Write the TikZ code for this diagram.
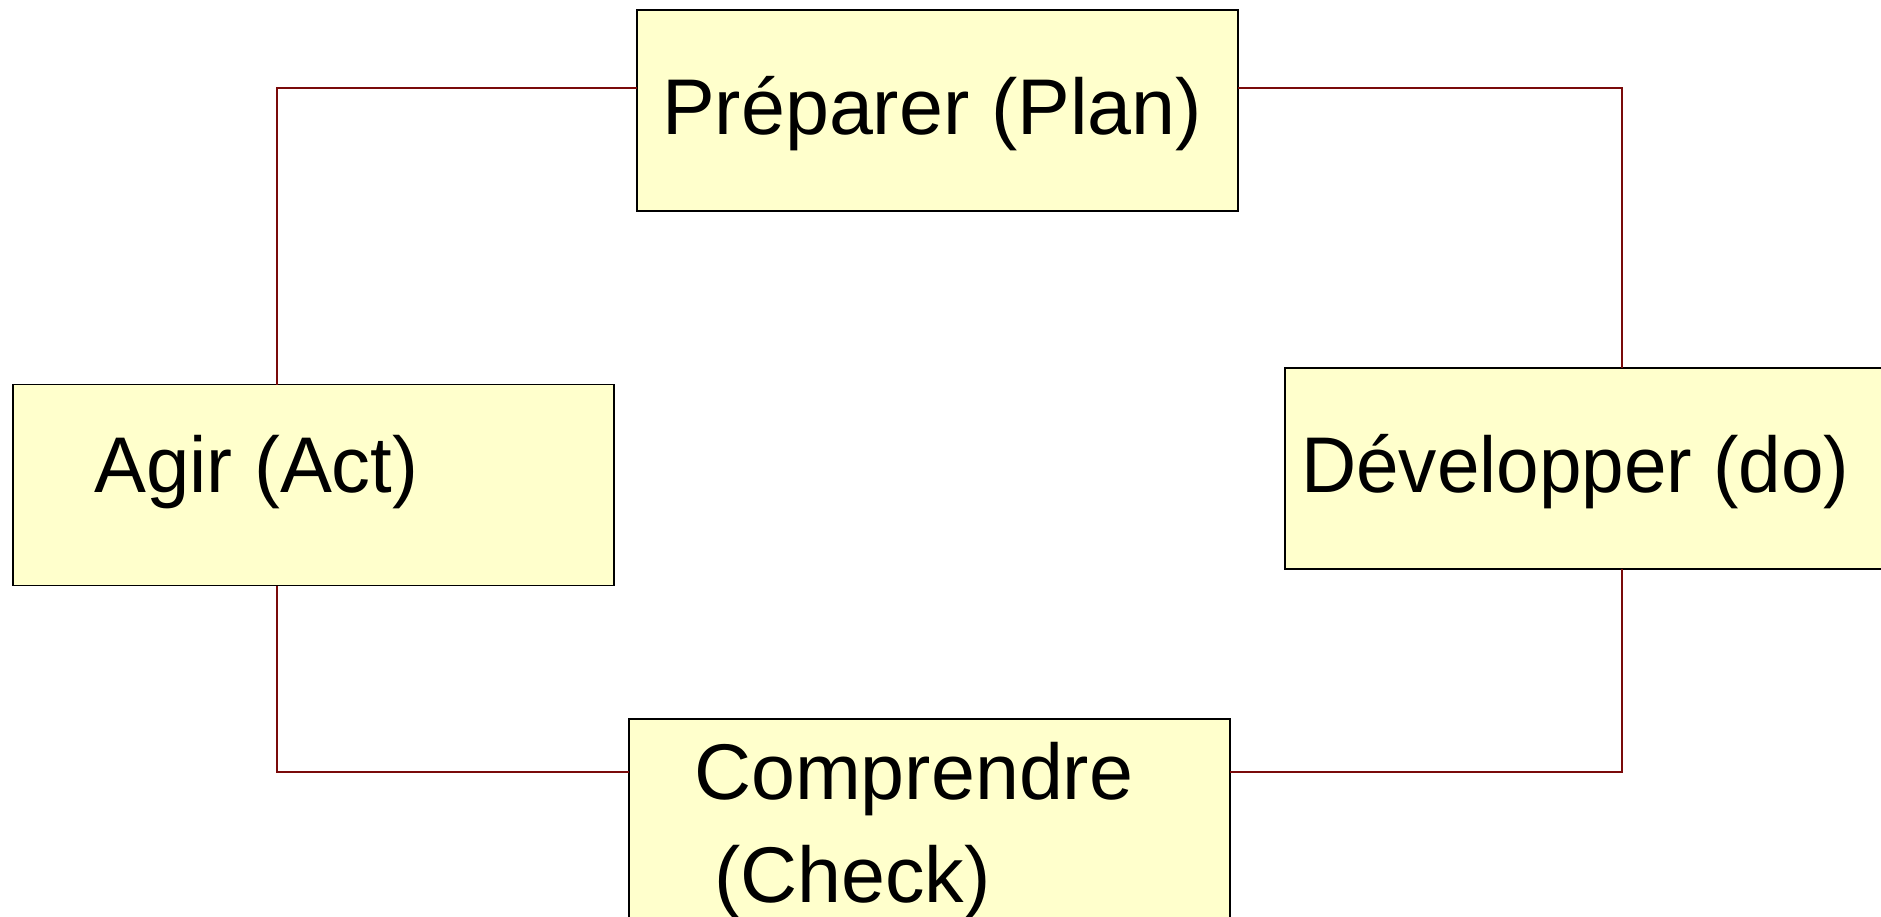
\documentclass[tikz,border=0pt]{standalone}
\usepackage{fontspec}
\setmainfont{Liberation Sans}
\definecolor{boxfill}{HTML}{FFFFCC}
\definecolor{linkred}{HTML}{7A0A0A}
\begin{document}
\begin{tikzpicture}[x=1pt,y=-1pt,
  stagebox/.style={draw=black,line width=1.6pt,fill=boxfill,rectangle,inner sep=0pt,outer sep=0pt,minimum width=601pt,minimum height=201pt},
  stagetext/.style={anchor=base west,inner sep=0pt,font=\fontsize{79}{95}\selectfont},
  link/.style={draw=linkred,line width=1.6pt}]
\useasboundingbox (0,0) rectangle (1881,916);
\node[stagebox] (plan) at (937.5,110.5) {};
\node[stagebox] (agir) at (313.5,485) {};
\node[stagebox] (dev) at (1585.5,468.5) {};
\node[stagebox] (comp) at (929.5,819.5) {};
\coordinate (tl) at (277,88);
\coordinate (tr) at (1622,88);
\coordinate (bl) at (277,772);
\coordinate (br) at (1622,772);
\draw[link] (tl -| plan.west) -- (tl) -- (tl |- agir.north);
\draw[link] (tr -| plan.east) -- (tr) -- (tr |- dev.north);
\draw[link] (bl -| comp.west) -- (bl) -- (bl |- agir.south);
\draw[link] (br -| comp.east) -- (br) -- (br |- dev.south);
\node[stagetext] (plant) at (662,134) {Préparer (Plan)};
\node[stagetext] (agirt) at (94,492) {\scalebox{0.985}[1]{Agir (Act)}};
\node[stagetext] (devt) at (1301,492) {\scalebox{0.968}[1]{Développer (do)}};
\node[stagetext] (compt) at (694,799) {Comprendre};
\node[stagetext] (checkt) at (714,902) {(Check)};
\end{tikzpicture}
\end{document}
